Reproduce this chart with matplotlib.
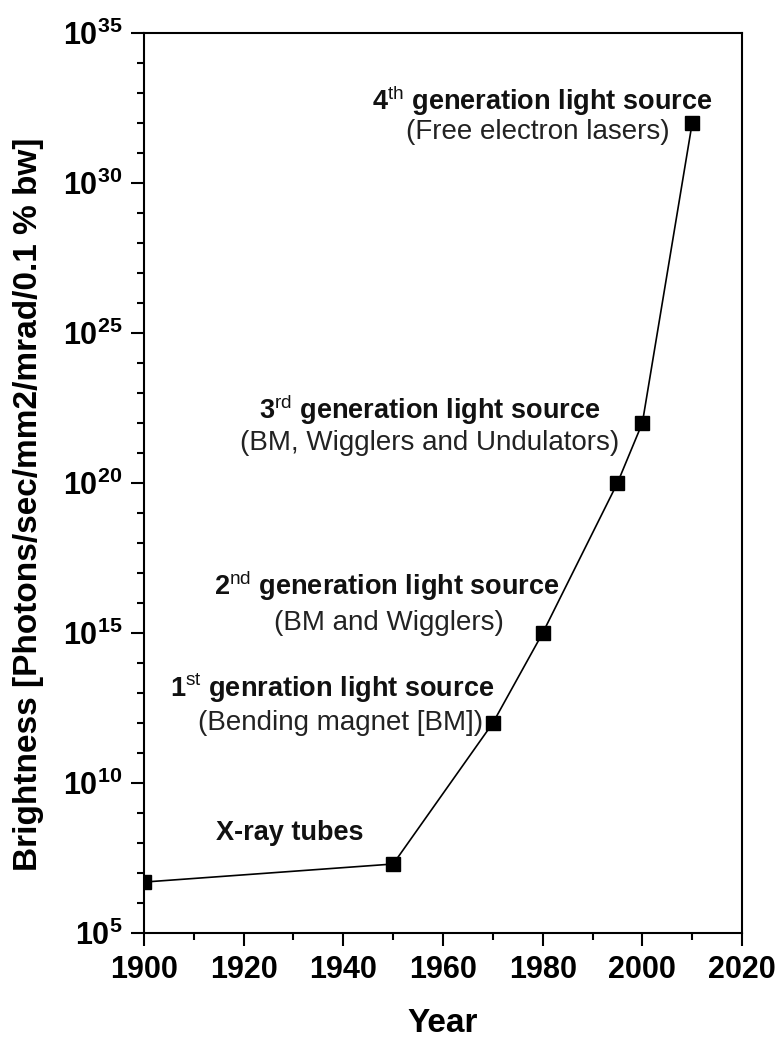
import math
import matplotlib
matplotlib.use('Agg')
import matplotlib.pyplot as plt
from matplotlib.ticker import FixedLocator, MultipleLocator, FuncFormatter

plt.rcParams['font.family'] = ['Liberation Sans', 'DejaVu Sans']
plt.rcParams['mathtext.fontset'] = 'custom'
plt.rcParams['mathtext.rm'] = 'Liberation Sans'
plt.rcParams['mathtext.bf'] = 'Liberation Sans:bold'

# data
years = [1900, 1950, 1970, 1980, 1995, 2000, 2010]
brightness = [5e6, 2e7, 1e12, 1e15, 1e20, 1e22, 1e32]

# annotation texts
gen_num = ['4', '3', '2', '1']
gen_sup = ['th', 'rd', 'nd', 'st']
gen_rest = [' generation light source', ' generation light source',
            ' generation light source', ' genration light source']
gen_sub = ['(Free electron lasers)', '(BM, Wigglers and Undulators)',
           '(BM and Wigglers)', '(Bending magnet [BM])']
# where they sit (year, log10 of brightness) for title and subtitle
title_x = [1979.9, 1957.4, 1948.8, 1937.7]
title_y = [32.43, 22.13, 16.27, 12.87]
sub_x = [1979.1, 1957.4, 1949.2, 1939.5]
sub_y = [31.47, 21.1, 15.1, 11.77]

fig = plt.figure(figsize=(7.8, 10.41), dpi=100)
ax = fig.add_axes([0.1846, 0.1037, 0.7667, 0.8646])

ax.plot(years, brightness, color='black', lw=1.2, marker='s', ms=9.5,
        mfc='black', mec='black')

ax.set_yscale('log')
ax.set_xlim(1900, 2020)
ax.set_ylim(1e5, 1e35)

ax.yaxis.set_major_locator(FixedLocator([10.0 ** e for e in range(5, 36, 5)]))
ax.yaxis.set_minor_locator(FixedLocator([10.0 ** e for e in range(5, 36) if e % 5]))
ax.yaxis.set_major_formatter(FuncFormatter(
    lambda v, p: r'$\mathbf{10^{%d}}$' % round(math.log10(v))))
ax.yaxis.set_minor_formatter(FuncFormatter(lambda v, p: ''))
ax.xaxis.set_major_locator(MultipleLocator(20))
ax.xaxis.set_minor_locator(MultipleLocator(10))

ax.tick_params(which='both', direction='out', top=False, right=False, width=1.5)
ax.tick_params(which='major', length=9.5, labelsize=22, pad=6)
ax.tick_params(which='minor', length=5)
for lab in ax.get_xticklabels():
    lab.set_fontweight('bold')
for s in ax.spines.values():
    s.set_linewidth(1.5)

ax.set_xlabel('Year', fontsize=24, fontweight='bold', labelpad=17)
ax.set_ylabel('Brightness [Photons/sec/mm2/mrad/0.1 % bw]', fontsize=24,
              fontweight='bold')
ax.yaxis.set_label_coords(-0.168, 0.476)

for i in range(len(gen_num)):
    ax.text(title_x[i], 10 ** title_y[i],
            gen_num[i] + r'$^{\rm ' + gen_sup[i] + '}$' + gen_rest[i],
            ha='center', va='baseline', fontsize=19.5, fontweight='bold',
            color='#111111')
    ax.text(sub_x[i], 10 ** sub_y[i], gen_sub[i], ha='center', va='baseline',
            fontsize=20, color='#222222')

ax.text(1929.3, 10 ** 8.1, 'X-ray tubes', ha='center', va='baseline',
        fontsize=19.5, fontweight='bold', color='#111111')

fig.savefig('out.png', dpi=100)
